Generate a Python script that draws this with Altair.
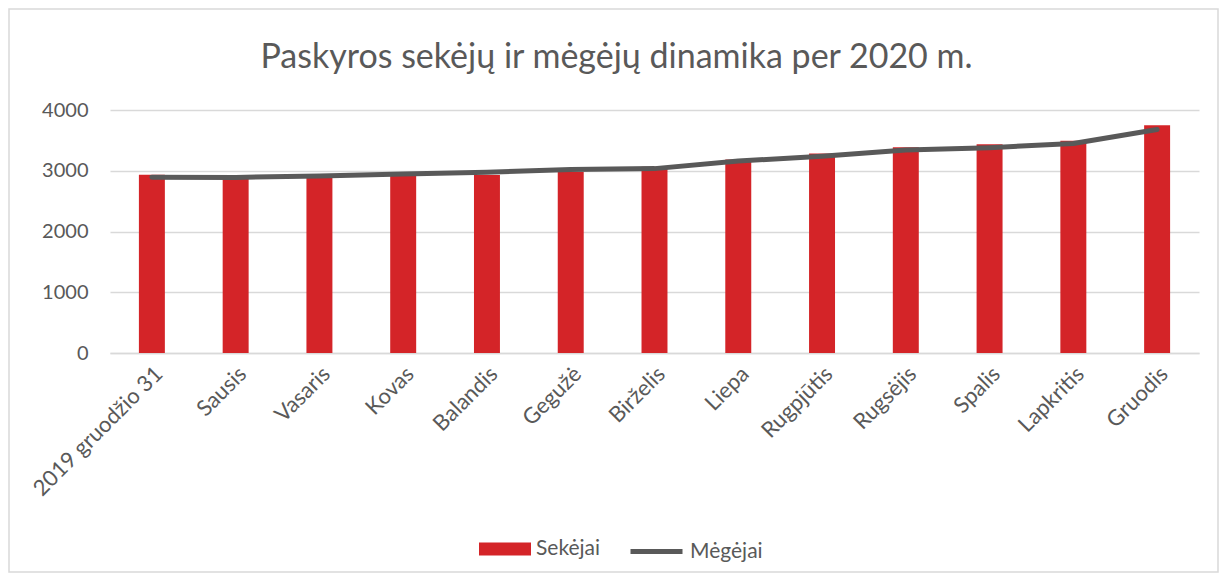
import altair as alt
import pandas as pd

months = ["2019 gruodžio 31", "Sausis", "Vasaris", "Kovas", "Balandis", "Gegužė",
          "Birželis", "Liepa", "Rugpjūtis", "Rugsėjis", "Spalis", "Lapkritis", "Gruodis"]
sekejai = [2935, 2895, 2905, 2920, 2930, 2980, 3065, 3185, 3285, 3385, 3435, 3495, 3750]
megejai = [2895, 2890, 2915, 2945, 2975, 3020, 3035, 3160, 3240, 3340, 3380, 3450, 3680]

df = pd.DataFrame({"month": months, "Sekėjai": sekejai, "Mėgėjai": megejai,
                   "s1": ["Sekėjai"] * len(months), "s2": ["Mėgėjai"] * len(months)})

FONT = "Lato"
GRAY = "#595959"
W, H = 1089, 243

xenc = alt.X("month:N", sort=None, title=None,
             scale=alt.Scale(paddingInner=0.69, paddingOuter=0.345),
             axis=alt.Axis(labelAngle=-45, labelFontSize=22, labelColor=GRAY, labelFont=FONT,
                           ticks=False, domainColor="#D9D9D9", domainWidth=1.5, labelPadding=10,
                           grid=False))

bars = alt.Chart(df).mark_bar().encode(
    x=xenc,
    y=alt.Y("Sekėjai:Q", title=None,
            scale=alt.Scale(domain=[0, 4000], nice=False),
            axis=alt.Axis(values=[0, 1000, 2000, 3000, 4000], format="d", labelFontSize=20,
                          labelColor=GRAY, labelFont=FONT, ticks=False, domain=False,
                          gridColor="#D9D9D9", gridWidth=1.5, labelPadding=22)),
    fill=alt.Fill("s1:N", scale=alt.Scale(domain=["Sekėjai"], range=["#D42428"]),
                  legend=alt.Legend(title=None, orient="none", legendX=369, legendY=413,
                                    symbolType="M-1,-0.25H1V0.25H-1Z", symbolSize=2704,
                                    symbolStrokeWidth=0, labelFontSize=21, labelColor=GRAY,
                                    labelFont=FONT, labelOffset=5)),
)

line = alt.Chart(df).mark_line(strokeWidth=5, strokeCap="round", strokeJoin="round").encode(
    x=alt.X("month:N", sort=None),
    y=alt.Y("Mėgėjai:Q"),
    stroke=alt.Stroke("s2:N", scale=alt.Scale(domain=["Mėgėjai"], range=[GRAY]),
                      legend=alt.Legend(title=None, orient="none", legendX=518, legendY=413,
                                        symbolType="stroke", symbolSize=2704,
                                        symbolStrokeWidth=5, labelFontSize=21, labelColor=GRAY,
                                        labelFont=FONT, labelOffset=5)),
)

border = alt.Chart(pd.DataFrame({"a": [0]})).mark_rect(
    fill=None, stroke="#D9D9D9", strokeWidth=1.5, clip=False
).encode(x=alt.value(-101), x2=alt.value(W + 19), y=alt.value(-101), y2=alt.value(H + 219))

chart = alt.layer(bars, line, border).resolve_scale(fill="independent", stroke="independent").properties(
    width=W, height=H,
    title=alt.TitleParams("Paskyros sekėjų ir mėgėjų dinamika per 2020 m.", fontSize=34,
                          font=FONT, color=GRAY, fontWeight="normal", anchor="middle",
                          dx=-38, offset=-67),
    autosize=alt.AutoSizeParams(type="none"),
    padding={"left": 102, "top": 102, "right": 20, "bottom": 220},
).configure_view(stroke=None)

chart.save("out.html", embed_options={"renderer": "svg", "actions": False})
